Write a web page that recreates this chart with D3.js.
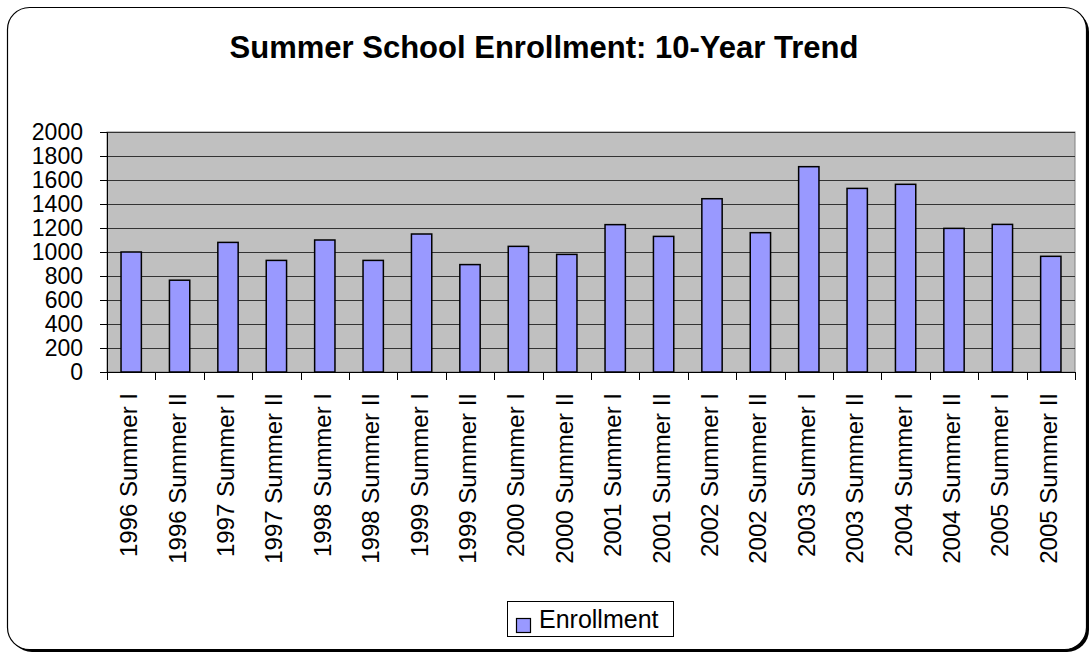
<!DOCTYPE html>
<html>
<head>
<meta charset="utf-8">
<script src="https://cdn.jsdelivr.net/npm/d3@7"></script>
<style>
  body { margin: 0; background: #fff; }
  svg { display: block; font-family: "Liberation Sans", Arial, sans-serif; }
</style>
</head>
<body>
<svg id="chart"></svg>
<script>
// Data
const categories = [
  "1996 Summer I", "1996 Summer II", "1997 Summer I", "1997 Summer II",
  "1998 Summer I", "1998 Summer II", "1999 Summer I", "1999 Summer II",
  "2000 Summer I", "2000 Summer II", "2001 Summer I", "2001 Summer II",
  "2002 Summer I", "2002 Summer II", "2003 Summer I", "2003 Summer II",
  "2004 Summer I", "2004 Summer II", "2005 Summer I", "2005 Summer II"
];
const enrollment = [
  1000, 765, 1080, 930, 1100, 930, 1150, 895, 1047, 980,
  1228, 1130, 1444, 1161, 1711, 1530, 1564, 1197, 1230, 964
];
const yTicks = [0, 200, 400, 600, 800, 1000, 1200, 1400, 1600, 1800, 2000];
const seriesName = "Enrollment";
const title = "Summer School Enrollment: 10-Year Trend";

// Layout
const W = 1092, H = 655;
const plot = { left: 107, right: 1075, top: 132, bottom: 372 };

const svg = d3.select("#chart").attr("width", W).attr("height", H);

// Outer frame with shadow
svg.append("rect")
  .attr("x", 10).attr("y", 10).attr("width", 1079).attr("height", 642)
  .attr("rx", 22).attr("ry", 22)
  .attr("fill", "#000");
svg.append("rect")
  .attr("x", 7.5).attr("y", 7.5).attr("width", 1079).attr("height", 642)
  .attr("rx", 22).attr("ry", 22)
  .attr("fill", "#fff").attr("stroke", "#000").attr("stroke-width", 1.2);

// Title
svg.append("text")
  .attr("x", 544).attr("y", 58)
  .attr("text-anchor", "middle")
  .attr("font-size", 31).attr("font-weight", "bold")
  .text(title);

// Scales
const x = d3.scaleBand().domain(categories).range([plot.left, plot.right]).paddingInner(0.58).paddingOuter(0.29);
const xBand = d3.scaleBand().domain(categories).range([plot.left, plot.right]);
const y = d3.scaleLinear().domain([0, 2000]).range([plot.bottom, plot.top]);

// Plot background
svg.append("rect")
  .attr("x", plot.left).attr("y", plot.top)
  .attr("width", plot.right - plot.left).attr("height", plot.bottom - plot.top)
  .attr("fill", "#c0c0c0").attr("stroke", "#808080").attr("stroke-width", 1);

// Gridlines
svg.append("g")
  .selectAll("line")
  .data(yTicks.filter(d => d > 0))
  .join("line")
  .attr("x1", plot.left).attr("x2", plot.right)
  .attr("y1", d => Math.round(y(d)) + 0.5).attr("y2", d => Math.round(y(d)) + 0.5)
  .attr("stroke", "#333").attr("stroke-width", 1);

// Bars
svg.append("g")
  .selectAll("rect")
  .data(enrollment)
  .join("rect")
  .attr("x", (d, i) => x(categories[i]))
  .attr("y", d => y(d))
  .attr("width", x.bandwidth())
  .attr("height", d => plot.bottom - y(d))
  .attr("fill", "#9999ff")
  .attr("stroke", "#000").attr("stroke-width", 1.5);

// Y axis
const yAxis = svg.append("g")
  .attr("transform", `translate(${plot.left},0)`)
  .call(d3.axisLeft(y).tickValues(yTicks).tickSize(7).tickPadding(17).tickFormat(d3.format("d")));
yAxis.select(".domain").attr("stroke", "#000");
yAxis.selectAll(".tick line").attr("stroke", "#000");
yAxis.selectAll("text").attr("font-size", 23).attr("fill", "#000")
  .attr("font-family", "Liberation Sans, Arial, sans-serif");

// X axis: ticks at band boundaries
const xAxisG = svg.append("g");
xAxisG.append("line")
  .attr("x1", plot.left).attr("x2", plot.right)
  .attr("y1", plot.bottom + 0.5).attr("y2", plot.bottom + 0.5)
  .attr("stroke", "#000");
const boundaries = categories.map(c => xBand(c)).concat([plot.right]);
xAxisG.selectAll("line.tk")
  .data(boundaries)
  .join("line")
  .attr("class", "tk")
  .attr("x1", d => Math.round(d) + 0.5).attr("x2", d => Math.round(d) + 0.5)
  .attr("y1", plot.bottom).attr("y2", plot.bottom + 8)
  .attr("stroke", "#000");

xAxisG.selectAll("text")
  .data(categories)
  .join("text")
  .attr("transform", d => `translate(${xBand(d) + xBand.bandwidth() / 2 + 6},393) rotate(-90)`)
  .attr("text-anchor", "end")
  .attr("font-size", 24)
  .text(d => d);

// Legend
const legend = svg.append("g").attr("transform", "translate(507,601)");
legend.append("rect")
  .attr("x", 0.5).attr("y", 0.5).attr("width", 166).attr("height", 35)
  .attr("fill", "#fff").attr("stroke", "#000");
legend.append("rect")
  .attr("x", 9.5).attr("y", 17.5).attr("width", 14).attr("height", 14)
  .attr("fill", "#9999ff").attr("stroke", "#000").attr("stroke-width", 1.2);
legend.append("text")
  .attr("x", 32).attr("y", 27)
  .attr("font-size", 25)
  .text(seriesName);
</script>
</body>
</html>
